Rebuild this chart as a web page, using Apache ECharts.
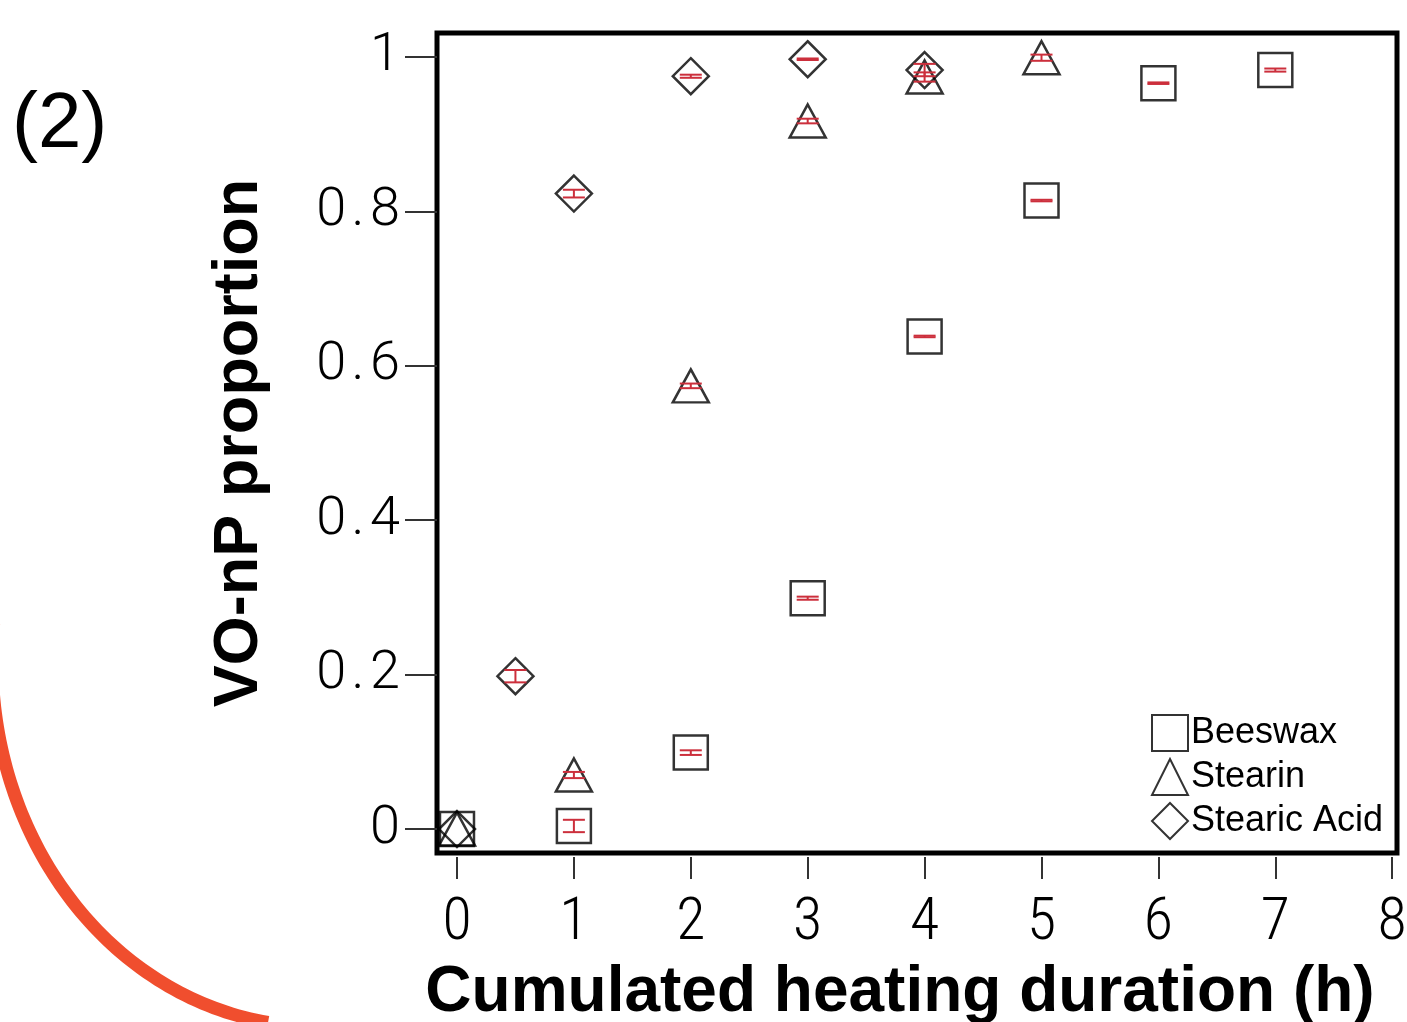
<!DOCTYPE html>
<html>
<head>
<meta charset="utf-8">
<style>
  html, body { margin: 0; padding: 0; background: #fff; }
  #Chart { width: 1407px; height: 1022px; }
</style>
<script src="https://cdn.jsdelivr.net/npm/echarts@6/dist/echarts.min.js"></script>
</head>
<body>
<div id="Chart"></div>
<script>
// values
var beeswaxX = [0, 1, 2, 3, 4, 5, 6, 7];
var beeswaxY = [0, 0.004, 0.099, 0.299, 0.638, 0.814, 0.966, 0.983];
var beeswaxErr = [0, 0.008, 0.003, 0.002, 0.001, 0.001, 0.001, 0.002];

var stearinX = [0, 1, 2, 3, 4, 5];
var stearinY = [0, 0.070, 0.574, 0.917, 0.974, 0.999];
var stearinErr = [0, 0.004, 0.003, 0.003, 0.006, 0.004];

var acidX = [0, 0.5, 1, 2, 3, 4];
var acidY = [0, 0.198, 0.823, 0.975, 0.997, 0.983];
var acidErr = [0, 0.008, 0.005, 0.002, 0.001, 0.008];

var xTicks = [0, 1, 2, 3, 4, 5, 6, 7, 8];
var yTicks = [0, 0.2, 0.4, 0.6, 0.8, 1];

function pairs(xs, ys) {
  return xs.map(function (x, i) { return [x, ys[i]]; });
}
function triples(xs, ys, es) {
  return xs.map(function (x, i) { return [x, ys[i], es[i]]; });
}

function errorBar(params, api) {
  var x = api.value(0), y = api.value(1), e = api.value(2);
  if (!e) return null;
  var hi = api.coord([x, y + e]);
  var lo = api.coord([x, y - e]);
  var w = 11;
  var style = { stroke: '#cc2f3c', lineWidth: 2 };
  return {
    type: 'group',
    children: [
      { type: 'line', shape: { x1: hi[0], y1: hi[1], x2: lo[0], y2: lo[1] }, style: style },
      { type: 'line', shape: { x1: hi[0] - w, y1: hi[1], x2: hi[0] + w, y2: hi[1] }, style: style },
      { type: 'line', shape: { x1: lo[0] - w, y1: lo[1], x2: lo[0] + w, y2: lo[1] }, style: style }
    ]
  };
}

// orange decorative curve at the left edge (piece of an ellipse)
function ellipsePoints(cx, cy, rx, ry, a0, a1, n) {
  var pts = [];
  for (var i = 0; i <= n; i++) {
    var a = a0 + (a1 - a0) * i / n;
    pts.push([cx + rx * Math.cos(a), cy + ry * Math.sin(a)]);
  }
  return pts;
}

var markerStyle = { color: 'transparent', borderColor: '#000', borderWidth: 2.5 };

var myChart = echarts.init(document.getElementById('Chart'));
var option = {
  animation: false,
  backgroundColor: '#fff',
  graphic: [{
    type: 'polyline',
    shape: { points: ellipsePoints(316.6, 660, 324.6, 366.6, Math.PI + 0.1, 1.721, 80) },
    style: { stroke: '#f04e2e', lineWidth: 13, fill: null },
    z: -1
  }, {
    type: 'text',
    left: 12,
    top: 86,
    style: { text: '(2)', font: '78px Liberation Sans, Arial, sans-serif', fill: '#000' }
  }],
  legend: {
    orient: 'vertical',
    left: 1146,
    top: 709,
    itemWidth: 36,
    itemHeight: 36,
    itemGap: 6,
    data: ['Beeswax', 'Stearin', 'Stearic Acid'],
    textStyle: { fontSize: 36, fontFamily: 'Liberation Sans, Arial, sans-serif', color: '#000', padding: [0, 0, 0, -2] }
  },
  grid: {
    left: 437,
    top: 33,
    width: 960,
    height: 820,
    outerBoundsMode: 'none',
    show: true,
    borderColor: '#000',
    borderWidth: 5,
    backgroundColor: 'transparent'
  },
  xAxis: {
    type: 'value',
    min: -0.171,
    max: 8.041,
    offset: 4,
    splitLine: { show: false },
    axisLine: { show: false, onZero: false },
    axisTick: { show: true, inside: false, length: 22, customValues: xTicks, lineStyle: { color: '#333', width: 2 } },
    axisLabel: {
      customValues: xTicks,
      margin: 37,
      fontSize: 60,
      fontWeight: 300,
      fontFamily: 'Roboto Condensed, DejaVu Sans Condensed, sans-serif',
      color: '#000'
    },
    name: 'Cumulated heating duration (h)',
    nameLocation: 'middle',
    nameGap: 104,
    nameTextStyle: { fontSize: 64, fontWeight: 'bold', fontFamily: 'Liberation Sans, Arial, sans-serif', color: '#000', padding: [0, 34, 0, 0] }
  },
  yAxis: {
    type: 'value',
    min: -0.031,
    max: 1.031,
    splitLine: { show: false },
    axisLine: { show: false, onZero: false },
    axisTick: { show: true, inside: false, length: 32, customValues: yTicks, lineStyle: { color: '#333', width: 2 } },
    axisLabel: {
      customValues: yTicks,
      margin: 37,
      fontSize: 54,
      fontWeight: 300,
      fontFamily: 'Roboto, DejaVu Sans, sans-serif',
      color: '#000',
      formatter: function (v) {
        return String(v).split('').join('\u200a');
      }
    },
    name: 'VO-nP proportion',
    nameLocation: 'middle',
    nameGap: 166,
    nameTextStyle: { fontSize: 63, fontWeight: 'bold', fontFamily: 'Liberation Sans, Arial, sans-serif', color: '#000' }
  },
  series: [{
    name: 'Beeswax',
    type: 'scatter',
    symbol: 'rect',
    symbolSize: 34,
    itemStyle: markerStyle,
    data: pairs(beeswaxX, beeswaxY)
  }, {
    name: 'Stearin',
    type: 'scatter',
    symbol: 'triangle',
    symbolSize: [36, 33],
    itemStyle: markerStyle,
    data: pairs(stearinX, stearinY)
  }, {
    name: 'Stearic Acid',
    type: 'scatter',
    symbol: 'diamond',
    symbolSize: [36, 36],
    itemStyle: markerStyle,
    data: pairs(acidX, acidY)
  }, {
    type: 'custom',
    renderItem: errorBar,
    data: triples(beeswaxX, beeswaxY, beeswaxErr),
    z: 3
  }, {
    type: 'custom',
    renderItem: errorBar,
    data: triples(stearinX, stearinY, stearinErr),
    z: 3
  }, {
    type: 'custom',
    renderItem: errorBar,
    data: triples(acidX, acidY, acidErr),
    z: 3
  }]
};
myChart.setOption(option);
window.addEventListener('resize', function () {
  myChart.resize();
});
</script>
</body>
</html>
